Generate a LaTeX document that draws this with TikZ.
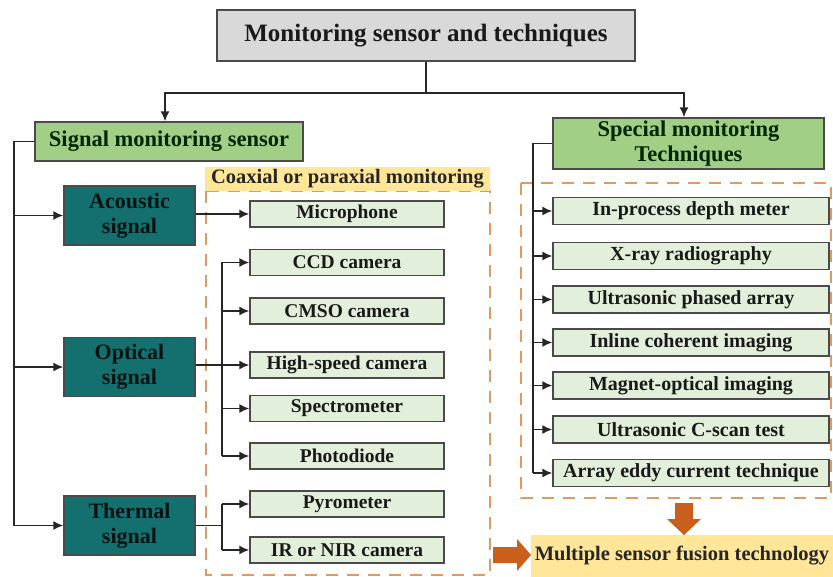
\documentclass[tikz,border=0pt]{standalone}
\usepackage{fontspec}
\setmainfont{Liberation Serif}
\usetikzlibrary{arrows.meta}
\definecolor{titlegray}{HTML}{D9D9D9}
\definecolor{hdrgreen}{HTML}{A2CF86}
\definecolor{lgreen}{HTML}{E2EFDA}
\definecolor{tealbox}{HTML}{13706F}
\definecolor{orangeline}{HTML}{DE9A63}
\definecolor{orangearrow}{HTML}{C95F1A}
\definecolor{yellowlab}{HTML}{FFE699}
\definecolor{edgegray}{HTML}{4A4A4A}
\tikzset{
  x=1pt, y=-1pt,
  boxbase/.style={draw=edgegray, line width=1.4pt, inner sep=0pt, align=center, font=\bfseries, text=black!90},
  titlebox/.style={boxbase, fill=titlegray, font=\fontsize{25}{29}\selectfont\bfseries},
  hdrbox/.style={boxbase, fill=hdrgreen, text=black!85!green, font=\fontsize{22.5}{25}\selectfont\bfseries},
  tealnode/.style={boxbase, fill=tealbox, text=black!85!teal, minimum width=131pt, minimum height=59pt, font=\fontsize{22}{25}\selectfont\bfseries},
  lbox/.style={boxbase, fill=lgreen, minimum width=194pt, minimum height=26pt, font=\fontsize{19.5}{22}\selectfont\bfseries},
  rbox/.style={boxbase, fill=lgreen, minimum width=276pt, minimum height=27pt, font=\fontsize{20}{22}\selectfont\bfseries},
  ylabel/.style={fill=yellowlab, inner sep=0pt, text=black!85, font=\fontsize{20.5}{23}\selectfont\bfseries},
  conn/.style={draw=black!85, line width=1.6pt},
  arr/.style={conn, -{Latex[length=10pt,width=9pt]}},
  odash/.style={draw=orangeline, line width=2pt, dash pattern=on 12pt off 9pt},
  bigarrow/.style={fill=orangearrow, draw=none}
}
\begin{document}
\begin{tikzpicture}
\useasboundingbox (0,0) rectangle (833,577);
\fill[white] (0,0) rectangle (833,577);

% dashed groups
\draw[odash] (206,191) rectangle (490,575);
\draw[odash] (521,183) rectangle (831,498);

% title and headers
\node[titlebox, minimum width=418pt, minimum height=51pt] (title) at (426,35.5) {Monitoring sensor and techniques};
\node[hdrbox, minimum width=268pt, minimum height=39pt] (sig) at (169,141.5) {Signal monitoring sensor};
\node[hdrbox, minimum width=271pt, minimum height=51pt] (spec) at (688.5,143.5) {Special monitoring\\Techniques};

% coaxial label
\node[ylabel, minimum width=285pt, minimum height=24pt] (coax) at (347.5,179) {Coaxial or paraxial monitoring};

% teal signal boxes
\node[tealnode] (ac) at (129.5,215.5) {Acoustic\\signal};
\node[tealnode] (op) at (129.5,367) {Optical\\signal};
\node[tealnode] (th) at (129.5,525.5) {Thermal\\signal};

% left column sensors
\node[lbox] (mic) at (347,214) {Microphone};
\node[lbox] (ccd) at (347,262.5) {CCD camera};
\node[lbox] (cmso) at (347,311) {CMSO camera};
\node[lbox] (hs) at (347,365) {High-speed camera};
\node[lbox] (sp) at (347,408.5) {Spectrometer};
\node[lbox] (pd) at (347,456) {Photodiode};
\node[lbox] (pyro) at (347,504) {Pyrometer};
\node[lbox] (ir) at (347,550) {IR or NIR camera};

% right column techniques
\node[rbox] (ipd) at (691,211) {In-process depth meter};
\node[rbox] (xray) at (691,256) {X-ray radiography};
\node[rbox] (upa) at (691,299.5) {Ultrasonic phased array};
\node[rbox] (ici) at (691,342.5) {Inline coherent imaging};
\node[rbox] (moi) at (691,385.5) {Magnet-optical imaging};
\node[rbox] (ucs) at (691,429.5) {Ultrasonic C-scan test};
\node[rbox] (eddy) at (691,473) {Array eddy current technique};

% fusion label
\node[ylabel, minimum width=302pt, minimum height=42pt] (fus) at (682,556) {Multiple sensor fusion technology};

% title connectors
\coordinate (tj) at (426,93);
\draw[conn] (title.south) -- (tj);
\draw[arr] (tj) -| ([xshift=-4pt]sig.north);
\draw[arr] (tj) -| ([xshift=-4.5pt]spec.north);

% signal branch
\coordinate (lx) at (14,0);
\draw[conn] (sig.west) -- (lx |- sig.west);
\draw[arr] (lx |- sig.west) |- (ac.west);
\draw[arr] (lx |- sig.west) |- (op.west);
\draw[arr] (lx |- sig.west) |- (th.west);

% acoustic
\draw[arr] (ac.east |- mic.west) -- (mic.west);

% optical
\coordinate (bx) at (222,0);
\draw[arr] (op.east |- hs.west) -- (hs.west);
\draw[conn] (bx |- ccd.west) -- (bx |- pd.west);
\foreach \n in {ccd,cmso,sp,pd} \draw[arr] (bx |- \n.west) -- (\n.west);

% thermal
\draw[conn] (th.east) -- (bx |- th.east);
\draw[conn] (bx |- pyro.west) -- (bx |- ir.west);
\foreach \n in {pyro,ir} \draw[arr] (bx |- \n.west) -- (\n.west);

% special branch
\coordinate (rx) at (533,0);
\draw[conn] (spec.west) -| (rx |- eddy.west);
\foreach \n in {ipd,xray,upa,ici,moi,ucs,eddy} \draw[arr] (rx |- \n.west) -- (\n.west);

% big orange arrows
\fill[bigarrow] (675,503) -- (693,503) -- (693,519) -- (701,519) -- (684,535) -- (667,519) -- (675,519) -- cycle;
\fill[bigarrow] (493,547) -- (517,547) -- (517,539) -- (531,555) -- (517,571) -- (517,563) -- (493,563) -- cycle;
\end{tikzpicture}
\end{document}
